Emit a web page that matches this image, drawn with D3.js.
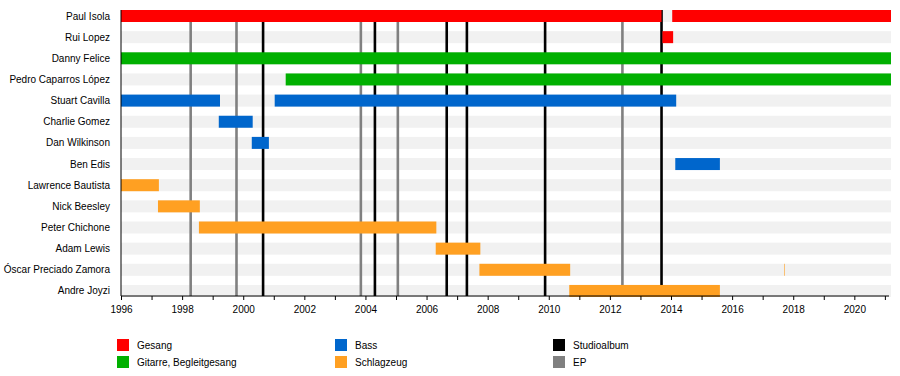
<!DOCTYPE html>
<html>
<head>
<meta charset="utf-8">
<script src="https://cdn.jsdelivr.net/npm/d3@7"></script>
<style>
  html, body { margin: 0; padding: 0; background: #fff; }
  svg { display: block; font-family: "Liberation Sans", Arial, sans-serif; }
</style>
</head>
<body>
<svg id="chart" width="900" height="376"></svg>
<script>
// ---- data ----
const members = [
  "Paul Isola", "Rui Lopez", "Danny Felice", "Pedro Caparros López",
  "Stuart Cavilla", "Charlie Gomez", "Dan Wilkinson", "Ben Edis",
  "Lawrence Bautista", "Nick Beesley", "Peter Chichone", "Adam Lewis",
  "Óscar Preciado Zamora", "Andre Joyzi"
];
const roles = ["Gesang", "Gitarre, Begleitgesang", "Bass", "Schlagzeug"];
const roleColors = ["#ff0000", "#00b000", "#0066cc", "#ffa022"];

// periods: [member, role, start, end]
const periods = [
  ["Paul Isola", "Gesang", 1996, 2013.69],
  ["Paul Isola", "Gesang", 2014.04, 2021.2],
  ["Rui Lopez", "Gesang", 2013.72, 2014.07],
  ["Danny Felice", "Gitarre, Begleitgesang", 1996, 2021.2],
  ["Pedro Caparros López", "Gitarre, Begleitgesang", 2001.39, 2021.2],
  ["Stuart Cavilla", "Bass", 1996, 1999.24],
  ["Stuart Cavilla", "Bass", 2001.03, 2014.17],
  ["Charlie Gomez", "Bass", 1999.2, 2000.31],
  ["Dan Wilkinson", "Bass", 2000.28, 2000.84],
  ["Ben Edis", "Bass", 2014.14, 2015.6],
  ["Lawrence Bautista", "Schlagzeug", 1996, 1997.24],
  ["Nick Beesley", "Schlagzeug", 1997.21, 1998.58],
  ["Peter Chichone", "Schlagzeug", 1998.55, 2006.32],
  ["Adam Lewis", "Schlagzeug", 2006.3, 2007.76],
  ["Óscar Preciado Zamora", "Schlagzeug", 2007.73, 2010.7],
  ["Óscar Preciado Zamora", "Schlagzeug", 2017.7, 2017.73],
  ["Andre Joyzi", "Schlagzeug", 2010.67, 2015.6]
];

const studioAlbums = [2000.65, 2004.31, 2006.66, 2007.32, 2009.88, 2013.69];
const eps = [1998.28, 1999.78, 2003.85, 2005.06, 2012.41];
const tickYears = d3.range(1996, 2022);
const labelYears = d3.range(1996, 2021, 2);
const eventTypes = ["Studioalbum", "EP"];
const eventColors = ["#000000", "#808080"];

// ---- layout ----
const svg = d3.select("#chart");
const x = d3.scaleLinear().domain([1996, 2021.2]).range([121, 891]);
const barH = 12;
const axisY = 296;
const roleColor = d3.scaleOrdinal().domain(roles).range(roleColors);
const eventColor = d3.scaleOrdinal().domain(eventTypes).range(eventColors);

function rowTop(m) { return 10 + members.indexOf(m) * 21.15; }

// background stripes
svg.append("g").selectAll("rect").data(members).join("rect")
  .attr("x", x(1996)).attr("width", x(2021.2) - x(1996))
  .attr("y", d => rowTop(d)).attr("height", barH)
  .attr("fill", "#f1f1f1");

// event lines
const events = studioAlbums.map(v => ["Studioalbum", v]).concat(eps.map(v => ["EP", v]));
svg.append("g").selectAll("line").data(events).join("line")
  .attr("x1", d => x(d[1])).attr("x2", d => x(d[1]))
  .attr("y1", 10).attr("y2", axisY)
  .attr("stroke", d => eventColor(d[0]))
  .attr("stroke-width", 2.6);

// bars
svg.append("g").selectAll("rect").data(periods).join("rect")
  .attr("x", d => (x(d[3]) - x(d[2]) < 2) ? Math.round(x(d[2])) : x(d[2]))
  .attr("width", d => Math.max(1, x(d[3]) - x(d[2])))
  .attr("y", d => rowTop(d[0])).attr("height", barH)
  .attr("fill", d => roleColor(d[1]))
  .attr("fill-opacity", d => (x(d[3]) - x(d[2]) < 2) ? 0.6 : 1);

// left axis line
svg.append("line")
  .attr("x1", x(1996)).attr("x2", x(1996))
  .attr("y1", 10).attr("y2", axisY)
  .attr("stroke", "#000").attr("stroke-width", 1);

// row labels
svg.append("g").selectAll("text").data(members).join("text")
  .attr("x", 110).attr("y", d => rowTop(d) + barH / 2)
  .attr("dy", "0.35em")
  .attr("text-anchor", "end")
  .attr("font-size", 10)
  .attr("fill", "#000")
  .text(d => d);

// bottom axis
const axis = d3.axisBottom(x)
  .tickValues(tickYears)
  .tickSize(4)
  .tickFormat(d => labelYears.includes(d) ? String(d) : "");
const ag = svg.append("g").attr("transform", `translate(0,${axisY})`).call(axis);
ag.select(".domain").attr("d", `M${x(1996)},0H${x(2021.2) - 2}`).attr("stroke", "#000");
ag.selectAll(".tick line").attr("stroke", "#000");
ag.selectAll(".tick text")
  .attr("font-family", "Liberation Sans, Arial, sans-serif")
  .attr("font-size", 10).attr("fill", "#000").attr("y", 10);

// legend
const legendItems = [
  ["Gesang", roleColor("Gesang"), 0, 0],
  ["Gitarre, Begleitgesang", roleColor("Gitarre, Begleitgesang"), 0, 1],
  ["Bass", roleColor("Bass"), 1, 0],
  ["Schlagzeug", roleColor("Schlagzeug"), 1, 1],
  ["Studioalbum", eventColor("Studioalbum"), 2, 0],
  ["EP", eventColor("EP"), 2, 1]
];
const lg = svg.append("g").selectAll("g").data(legendItems).join("g")
  .attr("transform", d => `translate(${117 + d[2] * 218},${339 + d[3] * 17})`);
lg.append("rect").attr("width", 12).attr("height", 12).attr("fill", d => d[1]);
lg.append("text").attr("x", 20).attr("y", 6).attr("dy", "0.35em")
  .attr("font-size", 10).attr("fill", "#000").text(d => d[0]);
</script>
</body>
</html>
